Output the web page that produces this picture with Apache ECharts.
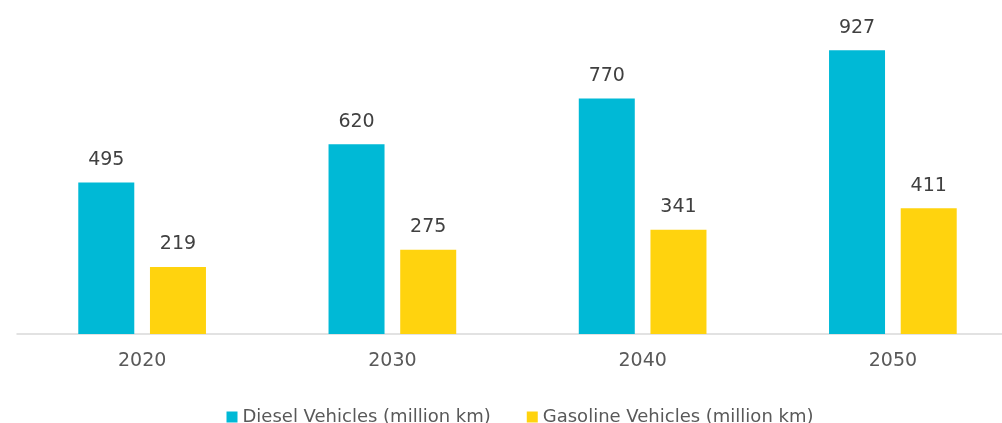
<!DOCTYPE html>
<html>
<head>
<meta charset="utf-8">
<script src="https://cdn.jsdelivr.net/npm/echarts@6/dist/echarts.min.js"></script>
<style>
  html, body { margin: 0; padding: 0; background: #ffffff; width: 1002px; height: 423px; overflow: hidden; }
  /* drawing surface is a little wider than the view so the last category runs past the right edge */
  #chart { width: 1040px; height: 423px; }
</style>
</head>
<body>
<div id="chart"></div>
<script>
// Projected annual distance travelled, by fuel type
const years = ['2020', '2030', '2040', '2050'];
const dieselKm = [495, 620, 770, 927];
const gasolineKm = [219, 275, 341, 411];
const seriesNames = ['Diesel Vehicles (million km)', 'Gasoline Vehicles (million km)'];

const FONT = '"DejaVu Sans", Verdana, sans-serif';

const chart = echarts.init(document.getElementById('chart'), null, { renderer: 'canvas' });

const valueLabel = {
  show: true,
  position: 'top',
  distance: 13,
  color: '#404040',
  fontFamily: FONT,
  fontSize: 19
};

chart.setOption({
  animation: false,
  backgroundColor: '#ffffff',
  grid: { left: 17, right: 22, top: 28, bottom: 89, containLabel: false },
  legend: {
    top: 403,
    left: 'center',
    itemWidth: 11,
    itemHeight: 11,
    itemGap: 36,
    icon: 'rect',
    textStyle: { color: '#595959', fontFamily: FONT, fontSize: 18 },
    data: seriesNames
  },
  xAxis: {
    type: 'category',
    data: years,
    axisLine: { show: true, lineStyle: { color: '#D9D9D9', width: 1.5 } },
    axisTick: { show: false },
    axisLabel: { color: '#595959', fontFamily: FONT, fontSize: 19, margin: 18 }
  },
  yAxis: {
    type: 'value',
    min: 0,
    max: 1000,
    show: false,
    splitLine: { show: false }
  },
  series: [
    {
      name: seriesNames[0],
      type: 'bar',
      data: dieselKm,
      barWidth: 56,
      barGap: '28%',
      itemStyle: { color: '#00B9D6' },
      label: valueLabel
    },
    {
      name: seriesNames[1],
      type: 'bar',
      data: gasolineKm,
      barWidth: 56,
      itemStyle: { color: '#FFD30E' },
      label: valueLabel
    }
  ]
});
</script>
</body>
</html>
